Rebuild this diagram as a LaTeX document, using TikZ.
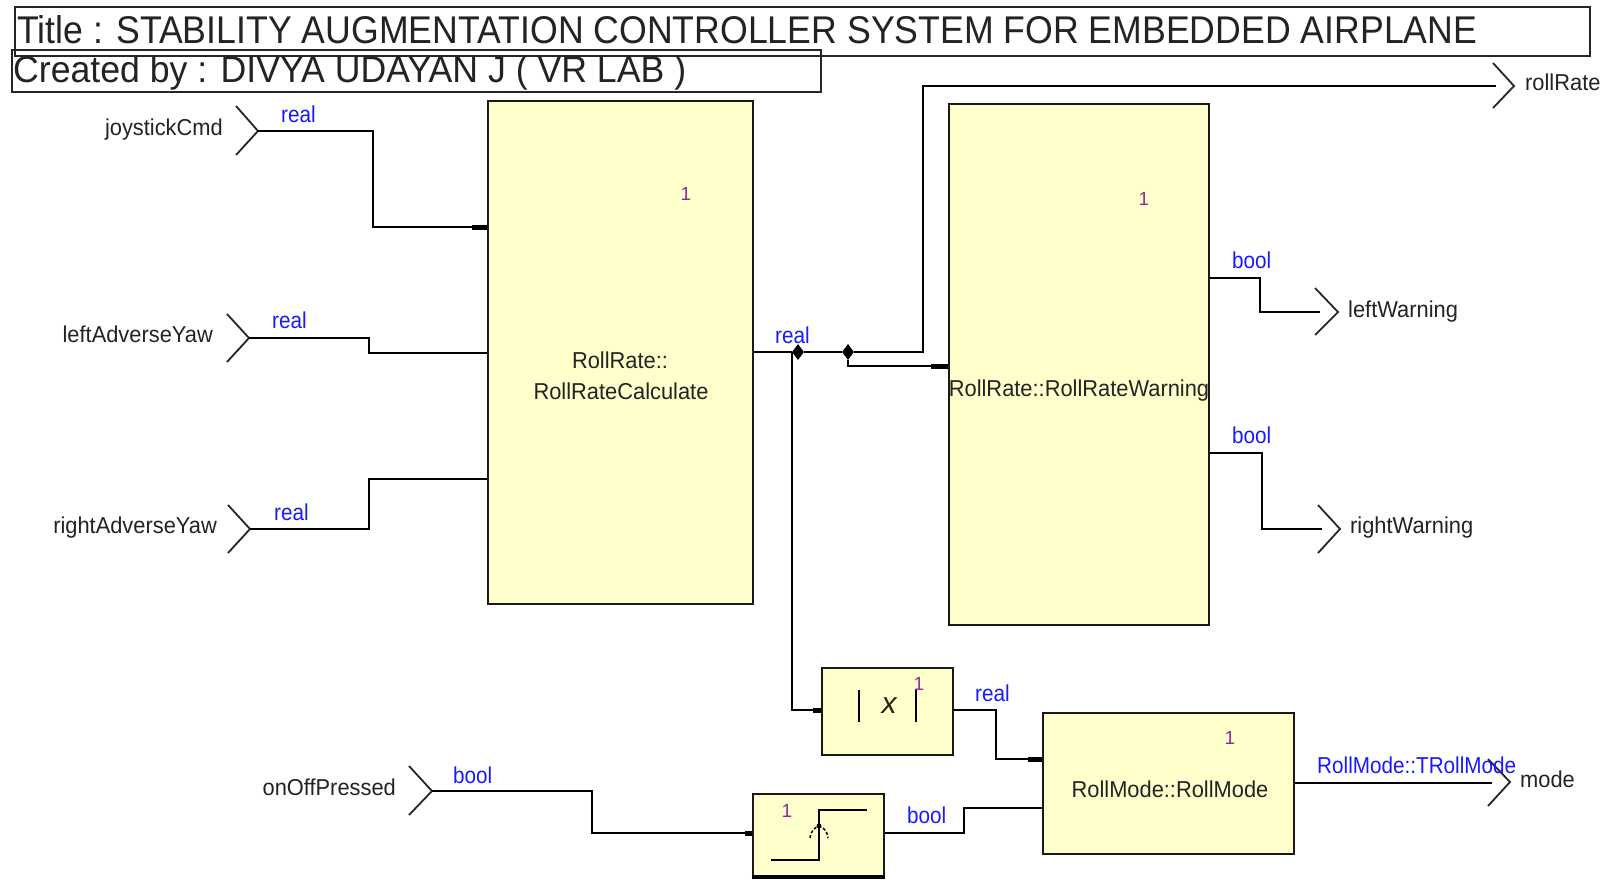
\documentclass[tikz,border=0pt]{standalone}
\usepackage{fontspec}
\setmainfont{Liberation Sans}
\usetikzlibrary{shapes.geometric}
\definecolor{blkfill}{RGB}{255,255,204}
\definecolor{typeblue}{RGB}{25,25,255}
\definecolor{idxpurple}{RGB}{150,40,150}
\definecolor{txtdark}{RGB}{35,35,35}
\newcommand\lbl[1]{\scalebox{0.95}[1]{#1}}
\newcommand\tlbl[1]{\scalebox{0.9}[1]{#1}}
\begin{document}
\begin{tikzpicture}[x=1pt,y=-1pt,
  wire/.style={line width=2pt,draw=black},
  stub/.style={line width=5pt,draw=black},
  chev/.style={line width=1.8pt,draw=black!85},
  blkbox/.style={draw=black!90,line width=2.5pt,fill=blkfill,inner sep=0pt},
  hdrbox/.style={draw=black!85,line width=2pt,inner sep=0pt},
  txtlbl/.style={inner sep=0pt,font=\fontsize{23}{23}\selectfont,text=txtdark},
  typelbl/.style={inner sep=0pt,font=\fontsize{23}{23}\selectfont,text=typeblue},
  idx/.style={inner sep=0pt,font=\fontsize{19}{19}\selectfont,text=idxpurple},
  junc/.style={diamond,fill=black,inner sep=0pt,minimum width=12pt,minimum height=16pt}]
\useasboundingbox (0,0) rectangle (1601,879);
\fill[white] (0,0) rectangle (1601,879);

% header
\node[hdrbox,minimum width=1575pt,minimum height=49pt,anchor=north west] (title) at (14,6) {};
\node[hdrbox,minimum width=809pt,minimum height=42pt,anchor=north west] (created) at (11,49) {};
\node[anchor=base west,inner sep=0pt,text=txtdark] (titletxt) at (17,43)
  {\resizebox{1460pt}{28pt}{Title : STABILITY AUGMENTATION CONTROLLER SYSTEM FOR EMBEDDED AIRPLANE}};
\node[anchor=base west,inner sep=0pt,text=txtdark] (createdtxt) at (13,82)
  {\resizebox{673pt}{27pt}{Created by : DIVYA UDAYAN J ( VR LAB )}};

% blocks
\node[blkbox,minimum width=265pt,minimum height=503pt] (rrc) at (620.5,352.5) {};
\node[txtlbl,anchor=base] (rrcl1) at (620,368) {\lbl{RollRate::}};
\node[txtlbl,anchor=base] (rrcl2) at (621,399) {\lbl{RollRateCalculate}};
\node[idx,anchor=base] (rrci) at (686,200) {1};

\node[blkbox,minimum width=260pt,minimum height=521pt] (rrw) at (1079,364.5) {};
\node[txtlbl,anchor=base] (rrwl) at (1079,396) {\lbl{RollRate::RollRateWarning}};
\node[idx,anchor=base] (rrwi) at (1144,205) {1};

\node[blkbox,minimum width=131pt,minimum height=87pt] (abs) at (887.5,711.5) {};
\draw[line width=2pt] (859,690) -- (859,722);
\draw[line width=2pt] (916,690) -- (916,722);
\node[inner sep=0pt,anchor=base,font=\fontsize{30}{30}\selectfont\itshape,text=black!75!brown] (absx) at (889,713) {x};
\node[idx,anchor=base] (absi) at (919,690) {1};

\node[blkbox,minimum width=251pt,minimum height=141pt] (rm) at (1168.5,783.5) {};
\node[txtlbl,anchor=base] (rml) at (1170,797) {\lbl{RollMode::RollMode}};
\node[idx,anchor=base] (rmi) at (1230,744) {1};

\node[blkbox,minimum width=131pt,minimum height=82pt] (edge) at (818.5,835) {};
\draw[line width=4pt] (edge.south west) -- (edge.south east);
\node[idx,anchor=base] (edgei) at (787,817) {1};
\draw[line width=2pt] (771,860) -- (819,860) -- (819,810) -- (867,810);
\draw[line width=1.5pt,densely dashed] (810,838) .. controls (812,823) and (826,823) .. (828,838);
\fill (819,826) circle (2.5);

% ports (chevron tips)
\coordinate (jtip) at (258,131);
\coordinate (ltip) at (249,338);
\coordinate (rtip) at (250,529);
\coordinate (otip) at (432,791);
\coordinate (rrtip) at (1514,86);
\coordinate (lwtip) at (1338,312);
\coordinate (rwtip) at (1340,529);
\coordinate (mtip) at (1510,782);
\coordinate (rrend) at (1496,86);
\coordinate (lwend) at (1320,312);
\coordinate (rwend) at (1322,529);
\coordinate (mend) at (1492,783);

\draw[chev] (jtip) ++(-22,-25) -- (jtip) -- ++(-22,24);
\draw[chev] (ltip) ++(-22,-24) -- (ltip) -- ++(-22,24);
\draw[chev] (rtip) ++(-22,-24) -- (rtip) -- ++(-22,24);
\draw[chev] (otip) ++(-23,-25) -- (otip) -- ++(-23,24);
\draw[chev] (rrtip) ++(-21,-23) -- (rrtip) -- ++(-21,22);
\draw[chev] (lwtip) ++(-23,-24) -- (lwtip) -- ++(-23,23);
\draw[chev] (rwtip) ++(-22,-24) -- (rwtip) -- ++(-22,24);
\draw[chev] (mtip) ++(-22,-23) -- (mtip) -- ++(-22,24);

% port names
\node[txtlbl,anchor=base east] (jname) at (223,135) {\lbl{joystickCmd}};
\node[txtlbl,anchor=base east] (lname) at (213,342) {\lbl{leftAdverseYaw}};
\node[txtlbl,anchor=base east] (rname) at (217,533) {\lbl{rightAdverseYaw}};
\node[txtlbl,anchor=base east] (oname) at (396,795) {\lbl{onOffPressed}};
\node[txtlbl,anchor=base west] (rrname) at (1525,90) {\lbl{rollRate}};
\node[txtlbl,anchor=base west] (lwname) at (1348,317) {\lbl{leftWarning}};
\node[txtlbl,anchor=base west] (rwname) at (1350,533) {\lbl{rightWarning}};
\node[txtlbl,anchor=base west] (mname) at (1520,787) {\lbl{mode}};

% junctions
\node[junc] (d1) at (798,352) {};
\node[junc] (d2) at (848,352) {};

% wires
\draw[wire] (jtip) -| (373,227) -- (rrc.west |- 0,227);
\draw[stub] (rrc.west |- 0,227) -- ++(-15,0);
\draw[wire] (ltip) -| (369,353) -- (rrc.west |- 0,353);
\draw[wire] (rtip) -| (369,479) -- (rrc.west |- 0,479);
\draw[wire] (otip) -| (592,833) -- (edge.west |- 0,833);
\draw[stub] (edge.west |- 0,833) -- ++(-7,0);

\draw[wire] (rrc.east |- 0,352) -- (d1) -- (d2) -- (923,352) |- (rrend);
\draw[wire] (d2) |- (rrw.west |- 0,366);
\draw[stub] (rrw.west |- 0,366) -- ++(-17,0);
\draw[wire] (d1) ++(-6,0) |- (abs.west |- 0,710);
\draw[stub] (abs.west |- 0,710) -- ++(-8,0);

\draw[wire] (abs.east |- 0,710) -| (996,759) -- (rm.west |- 0,759);
\draw[stub] (rm.west |- 0,759) -- ++(-14,0);
\draw[wire] (edge.east |- 0,833) -| (964,808) -- (rm.west |- 0,808);
\draw[wire] (rm.east |- 0,783) -- (mend);

\draw[wire] (rrw.east |- 0,278) -| (1260,312) -- (lwend);
\draw[wire] (rrw.east |- 0,453) -| (1262,529) -- (rwend);

% type labels
\node[typelbl,anchor=base west] (t1) at (281,122) {\tlbl{real}};
\node[typelbl,anchor=base west] (t2) at (272,328) {\tlbl{real}};
\node[typelbl,anchor=base west] (t3) at (274,520) {\tlbl{real}};
\node[typelbl,anchor=base west] (t4) at (453,783) {\tlbl{bool}};
\node[typelbl,anchor=base west] (t5) at (775,343) {\tlbl{real}};
\node[typelbl,anchor=base west] (t6) at (975,701) {\tlbl{real}};
\node[typelbl,anchor=base west] (t7) at (907,823) {\tlbl{bool}};
\node[typelbl,anchor=base west] (t8) at (1232,268) {\tlbl{bool}};
\node[typelbl,anchor=base west] (t9) at (1232,443) {\tlbl{bool}};
\node[typelbl,anchor=base west] (t10) at (1317,773) {\tlbl{RollMode::TRollMode}};
\end{tikzpicture}
\end{document}
